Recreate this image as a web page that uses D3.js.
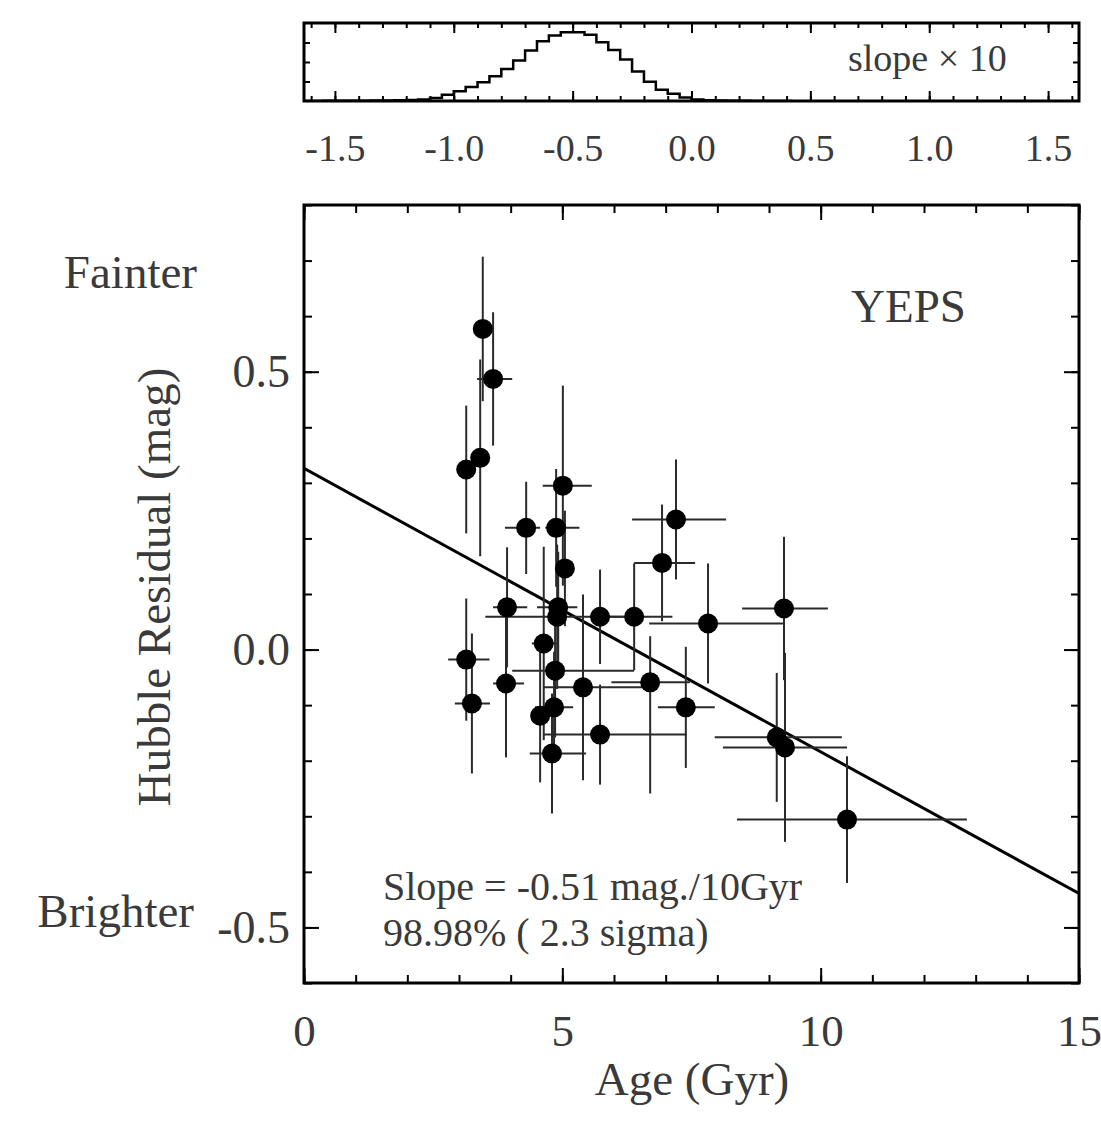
<!DOCTYPE html>
<html><head><meta charset="utf-8">
<script src="https://cdn.jsdelivr.net/npm/d3@7"></script>
<style>
body{margin:0;background:#fff;}
svg text{font-family:"Liberation Serif","Times New Roman",serif;fill:#3a3a3a;}
</style></head><body>
<svg id="c" width="1101" height="1130"></svg>
<script>
// ---------------- data ----------------
const ages      = [3.46, 3.66, 3.14, 3.41, 5.01, 4.30, 4.88, 5.05, 7.20, 6.93, 5.73, 6.39, 7.82, 9.29, 6.70, 7.39,
                   5.73, 9.15, 9.31, 10.51, 3.14, 3.25, 3.93, 3.91, 4.64, 4.57, 4.92, 4.90, 4.86, 4.84, 4.80, 5.40];
const residuals = [0.577, 0.487, 0.324, 0.345, 0.295, 0.219, 0.219, 0.146, 0.234, 0.156, 0.059, 0.059, 0.047, 0.074, -0.059, -0.104,
                   -0.153, -0.158, -0.176, -0.306, -0.018, -0.097, 0.076, -0.061, 0.011, -0.119, 0.076, 0.059, -0.038, -0.104, -0.187, -0.068];
const ageErrLo  = [0.15, 0.31, 0.10, 0.10, 0.39, 0.41, 0.21, 0.10, 0.85, 0.54, 0.20, 0.74, 1.14, 0.81, 0.75, 0.54,
                   1.10, 1.20, 1.20, 2.13, 0.35, 0.33, 0.27, 0.25, 0.23, 0.15, 0.41, 1.39, 0.83, 0.37, 0.43, 0.77];
const ageErrHi  = [0.15, 0.37, 0.10, 0.10, 0.56, 0.27, 0.45, 0.10, 0.97, 0.64, 0.20, 0.74, 1.45, 0.85, 0.77, 0.56,
                   1.68, 1.26, 1.20, 2.32, 0.45, 0.35, 0.39, 0.35, 0.27, 0.15, 0.37, 1.30, 1.53, 0.37, 0.66, 1.24];
const resErrDown= [0.13, 0.12, 0.115, 0.177, 0.18, 0.083, 0.106, 0.104, 0.108, 0.105, 0.085, 0.096, 0.108, 0.129, 0.20, 0.109,
                   0.09, 0.116, 0.17, 0.114, 0.11, 0.126, 0.108, 0.133, 0.174, 0.12, 0.10, 0.13, 0.12, 0.10, 0.108, 0.167];
const resErrUp  = [0.13, 0.12, 0.115, 0.177, 0.18, 0.083, 0.106, 0.104, 0.108, 0.105, 0.085, 0.096, 0.108, 0.129, 0.083, 0.109,
                   0.09, 0.116, 0.17, 0.114, 0.11, 0.126, 0.108, 0.133, 0.174, 0.12, 0.10, 0.13, 0.12, 0.10, 0.108, 0.167];

const fitIntercept = 0.326;   // mag at age 0
const fitSlope = -0.051;      // mag per Gyr

const xMajorTicks = [0, 5, 10, 15];
const xTickLabels = ["0", "5", "10", "15"];
const yMajorTicks = [-0.5, 0.0, 0.5];
const yTickLabels = ["-0.5", "0.0", "0.5"];

// slope posterior histogram (slope x 10)
const histCenters = [-1.625,-1.575,-1.525,-1.475,-1.425,-1.375,-1.325,-1.275,-1.225,-1.175,-1.125,-1.075,-1.025,-0.975,-0.925,-0.875,
                     -0.825,-0.775,-0.725,-0.675,-0.625,-0.575,-0.525,-0.475,-0.425,-0.375,-0.325,-0.275,-0.225,-0.175,-0.125,-0.075,
                     -0.025,0.025,0.075,0.125,0.175,0.225,0.275,0.325,0.375,0.425];
const histCounts  = [0,1,2,2,3,4,5,7,10,14,20,40,80,124,178,240,
                     318,409,518,646,767,841,880,880,850,754,654,532,379,246,145,92,
                     45,20,10,5,3,2,1,1,0,0];
const histTicks = [-1.5, -1.0, -0.5, 0.0, 0.5, 1.0, 1.5];
const histTickLabels = ["-1.5", "-1.0", "-0.5", "0.0", "0.5", "1.0", "1.5"];
const histYTicks = [250, 500, 750];

// ---------------- drawing ----------------
const svg = d3.select("#c");

// main panel
const x = d3.scaleLinear().domain([0, 15]).range([304, 1079]);
const y = d3.scaleLinear().domain([-0.6, 0.8]).range([983, 205]);

svg.append("clipPath").attr("id", "clipMain")
  .append("rect").attr("x", 304).attr("y", 205).attr("width", 775).attr("height", 778);

const plot = svg.append("g").attr("clip-path", "url(#clipMain)");

// fit line
const fitAges = x.domain();
plot.append("line")
  .attr("x1", x(fitAges[0])).attr("y1", y(fitIntercept + fitSlope * fitAges[0]))
  .attr("x2", x(fitAges[1])).attr("y2", y(fitIntercept + fitSlope * fitAges[1]))
  .attr("stroke", "#000").attr("stroke-width", 3);

const pts = ages.map((a, i) => ({a, r: residuals[i], xl: ageErrLo[i], xh: ageErrHi[i], yd: resErrDown[i], yu: resErrUp[i]}));

const eb = plot.append("g").attr("stroke", "#2a2a2a").attr("stroke-width", 2);
eb.selectAll("line.h").data(pts).join("line").attr("class", "h")
  .attr("x1", d => x(d.a - d.xl)).attr("x2", d => x(d.a + d.xh))
  .attr("y1", d => y(d.r)).attr("y2", d => y(d.r));
eb.selectAll("line.v").data(pts).join("line").attr("class", "v")
  .attr("x1", d => x(d.a)).attr("x2", d => x(d.a))
  .attr("y1", d => y(d.r - d.yd)).attr("y2", d => y(d.r + d.yu));

plot.append("g").selectAll("circle").data(pts).join("circle")
  .attr("cx", d => x(d.a)).attr("cy", d => y(d.r)).attr("r", 10).attr("fill", "#000");

function styleAxis(g) {
  g.select(".domain").remove();
  g.selectAll(".tick line").attr("stroke", "#000").attr("stroke-width", 2);
}

// x axes
svg.append("g").attr("transform", "translate(0,983)")
  .call(d3.axisBottom(x).tickValues(x.ticks(15)).tickSize(-8).tickFormat(""))
  .call(styleAxis);
svg.append("g").attr("transform", "translate(0,983)")
  .call(d3.axisBottom(x).tickValues(xMajorTicks).tickSize(-15).tickPadding(31)
        .tickFormat((d, i) => xTickLabels[i]))
  .call(styleAxis)
  .call(g => g.selectAll("text").attr("font-size", 45).attr("fill", "#3a3a3a"));
svg.append("g").attr("transform", "translate(0,205)")
  .call(d3.axisTop(x).tickValues(x.ticks(15)).tickSize(-8).tickFormat(""))
  .call(styleAxis);
svg.append("g").attr("transform", "translate(0,205)")
  .call(d3.axisTop(x).tickValues(xMajorTicks).tickSize(-15).tickFormat(""))
  .call(styleAxis);

// y axes
svg.append("g").attr("transform", "translate(304,0)")
  .call(d3.axisLeft(y).tickValues(y.ticks(14)).tickSize(-8).tickFormat(""))
  .call(styleAxis);
svg.append("g").attr("transform", "translate(304,0)")
  .call(d3.axisLeft(y).tickValues(yMajorTicks).tickSize(-15).tickPadding(14)
        .tickFormat((d, i) => yTickLabels[i]))
  .call(styleAxis)
  .call(g => g.selectAll("text").attr("font-size", 46).attr("fill", "#3a3a3a"));
svg.append("g").attr("transform", "translate(1079,0)")
  .call(d3.axisRight(y).tickValues(y.ticks(14)).tickSize(-8).tickFormat(""))
  .call(styleAxis);
svg.append("g").attr("transform", "translate(1079,0)")
  .call(d3.axisRight(y).tickValues(yMajorTicks).tickSize(-15).tickFormat(""))
  .call(styleAxis);

svg.append("rect").attr("x", 304).attr("y", 205).attr("width", 775).attr("height", 778)
  .attr("fill", "none").attr("stroke", "#000").attr("stroke-width", 3);

// texts main
svg.append("text").attr("x", 197).attr("y", 288).attr("text-anchor", "end").attr("font-size", 47).text("Fainter");
svg.append("text").attr("x", 194).attr("y", 927).attr("text-anchor", "end").attr("font-size", 47).text("Brighter");
svg.append("text").attr("transform", "translate(170,587) rotate(-90)").attr("text-anchor", "middle")
  .attr("font-size", 47).text("Hubble Residual (mag)");
svg.append("text").attr("x", 692).attr("y", 1095).attr("text-anchor", "middle").attr("font-size", 47).text("Age (Gyr)");
svg.append("text").attr("x", 851).attr("y", 322).attr("font-size", 47).attr("fill", "#333").text("YEPS");
svg.append("text").attr("x", 383).attr("y", 900).attr("font-size", 40).attr("fill", "#444").text("Slope = -0.51 mag./10Gyr");
svg.append("text").attr("x", 383).attr("y", 946).attr("font-size", 40).attr("fill", "#444").text("98.98% ( 2.3 sigma)");

// ---------------- top histogram panel ----------------
const hx = d3.scaleLinear().domain([-1.63, 1.63]).range([304, 1079]);
const hy = d3.scaleLinear().domain([0, 1000]).range([101, 23]);

svg.append("clipPath").attr("id", "clipTop")
  .append("rect").attr("x", 304).attr("y", 23).attr("width", 775).attr("height", 78);

svg.append("path").attr("clip-path", "url(#clipTop)")
  .datum(histCenters.map((c, i) => [c, histCounts[i]]))
  .attr("d", d3.line().x(d => hx(d[0])).y(d => hy(d[1])).curve(d3.curveStep))
  .attr("fill", "none").attr("stroke", "#000").attr("stroke-width", 2.5);

svg.append("g").attr("transform", "translate(0,101)")
  .call(d3.axisBottom(hx).tickValues(hx.ticks(30)).tickSize(-5).tickFormat(""))
  .call(styleAxis);
svg.append("g").attr("transform", "translate(0,101)")
  .call(d3.axisBottom(hx).tickValues(histTicks).tickSize(-10).tickPadding(33)
        .tickFormat((d, i) => histTickLabels[i]))
  .call(styleAxis)
  .call(g => g.selectAll("text").attr("font-size", 38).attr("fill", "#444"));
svg.append("g").attr("transform", "translate(0,23)")
  .call(d3.axisTop(hx).tickValues(hx.ticks(30)).tickSize(-5).tickFormat(""))
  .call(styleAxis);
svg.append("g").attr("transform", "translate(0,23)")
  .call(d3.axisTop(hx).tickValues(histTicks).tickSize(-10).tickFormat(""))
  .call(styleAxis);
svg.append("g").attr("transform", "translate(304,0)")
  .call(d3.axisLeft(hy).tickValues(histYTicks).tickSize(-6).tickFormat(""))
  .call(styleAxis);
svg.append("g").attr("transform", "translate(1079,0)")
  .call(d3.axisRight(hy).tickValues(histYTicks).tickSize(-6).tickFormat(""))
  .call(styleAxis);

svg.append("rect").attr("x", 304).attr("y", 23).attr("width", 775).attr("height", 78)
  .attr("fill", "none").attr("stroke", "#000").attr("stroke-width", 3);

svg.append("text").attr("x", 848).attr("y", 71).attr("font-size", 38).attr("fill", "#444").text("slope × 10");
</script>
</body></html>
